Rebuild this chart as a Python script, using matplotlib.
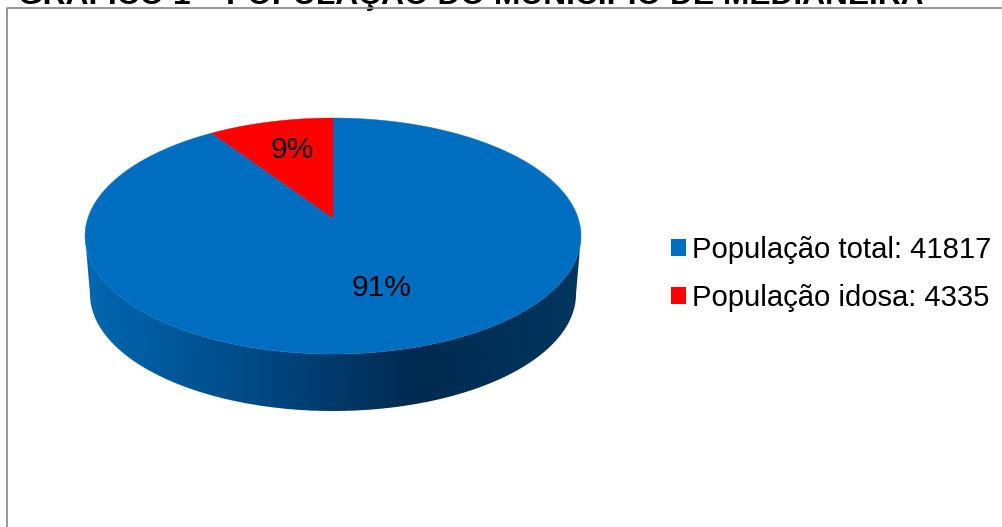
import numpy as np
import matplotlib
matplotlib.use("Agg")
import matplotlib.pyplot as plt
from matplotlib.colors import LinearSegmentedColormap
from matplotlib.patches import Patch, Polygon

title = "GRÁFICO 1 – POPULAÇÃO DO MUNICÍPIO DE MEDIANEIRA"
categories = ["População total", "População idosa"]
values = [41817, 4335]
colors = ["#006EC0", "#FF0000"]
wall_stops = ["#0068B0", "#004A86", "#002A50", "#00365F"]

W, H = 1003, 527
plt.rcParams["font.family"] = ["Liberation Sans", "DejaVu Sans"]
fig = plt.figure(figsize=(W / 100, H / 100), dpi=100, facecolor="white")
ax = fig.add_axes([0, 0, 1, 1])
ax.set_xlim(0, W)
ax.set_ylim(H, 0)
ax.axis("off")

cx, cy, rx, ry = 333, 236, 248, 118
bx, by, brx, bry = 333, 294, 243, 117
tilt = 18 / 118  # perspective shift of the pie centre


def project(theta, r=1.0):
    """Clockwise angle from 12 o'clock on the unit disc -> tilted pie on the canvas."""
    x = r * np.sin(theta)
    y = r * np.cos(theta)
    d = 1 + tilt * y
    xp = x * np.sqrt(1 - tilt ** 2) / d
    yp = (y + tilt) / d
    return cx + rx * xp, cy - ry * yp


# side wall: gradient image clipped to the extruded outline
t = np.linspace(np.pi, 0, 200)
top_x, top_y = cx + rx * np.cos(t), cy + ry * np.sin(t)
bot_x, bot_y = bx + brx * np.cos(t[::-1]), by + bry * np.sin(t[::-1])
wall = Polygon(np.column_stack([np.r_[top_x, bot_x], np.r_[top_y, bot_y]]),
               closed=True, fc="none", ec="none")
ax.add_patch(wall)
cmap = LinearSegmentedColormap.from_list("wall", wall_stops)
img = ax.imshow(np.linspace(0, 1, 256)[None, :], cmap=cmap, aspect="auto",
                extent=(cx - rx, cx + rx, by + bry, cy - 5), zorder=1,
                interpolation="bilinear")
# keep the full-canvas view after imshow
ax.set_xlim(0, W)
ax.set_ylim(H, 0)
img.set_clip_path(wall)

# top face, slices run counter-clockwise from 12 o'clock: red first
shares = np.array(values, dtype=float) / sum(values)
red_end = 2 * np.pi * shares[1]
th_red = np.linspace(-red_end, 0, 60)
th_blue = np.linspace(0, 2 * np.pi - red_end, 400)
tip = project(0.0, 0.0)
for th, c in ((th_blue, colors[0]), (th_red, colors[1])):
    px, py = project(th)
    ax.fill(np.r_[tip[0], px], np.r_[tip[1], py], color=c, lw=0.3, zorder=2)

# labels
fs = 21.6
ax.text(382, 288, f"{shares[0] * 100:.0f}%", fontsize=fs, ha="center", va="center", color="black", zorder=3)
ax.text(292, 150, f"{shares[1] * 100:.0f}%", fontsize=fs, ha="center", va="center", color="black", zorder=3)

# legend
handles = [Patch(fc=c, ec="none") for c in colors]
labels = [f"{c}: {v}" for c, v in zip(categories, values)]
ax.legend(handles, labels, loc="center left", bbox_to_anchor=(671 / W, 1 - 274 / H),
          frameon=False, fontsize=21.1, handlelength=0.52, handleheight=0.52, handletextpad=0.18,
          labelspacing=0.69, borderpad=0, borderaxespad=0)

# chart frame and cut-off document heading
ax.plot([7.5, 7.5, W + 5], [H + 5, 8, 8], color="#868686", lw=1.2, clip_on=False, zorder=4)
ax.text(18, 4, title, fontsize=22.9, fontweight="bold", ha="left", va="baseline", color="black", clip_on=False)

fig.savefig("out.png", dpi=100, facecolor="white")
